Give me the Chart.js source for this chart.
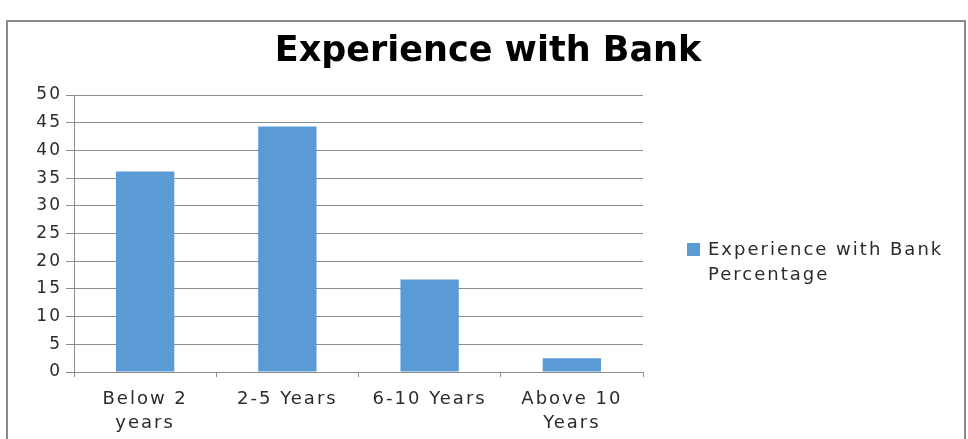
<!DOCTYPE html>
<html>
<head>
<meta charset="utf-8">
<title>Experience with Bank</title>
<script src="https://cdn.jsdelivr.net/npm/chart.js@4.4.1/dist/chart.umd.min.js"></script>
<style>
  html, body { margin: 0; padding: 0; background: #fff; }
  #chartBox { position: relative; width: 968px; height: 439px; }
</style>
</head>
<body>
<div id="chartBox"><canvas id="bankChart" width="968" height="439"></canvas></div>
<script>
// Chart data
const chartTitle = 'Experience with Bank';
const seriesName = 'Experience with Bank Percentage';
const categories = [['Below 2', 'years'], '2-5 Years', '6-10 Years', ['Above 10', 'Years']];
const percentages = [36.2, 44.3, 16.7, 2.5];
const yTickValues = [0, 5, 10, 15, 20, 25, 30, 35, 40, 45, 50];

// Styling
const fontFamily = '"DejaVu Sans", Verdana, sans-serif';
const barColor = '#5b9bd5';
const gridColor = '#8c8c8c';
const textColor = '#2b2b2b';
const spacing = '2px';

// Wide, loosely spaced lettering for the axis and key labels
const textSpacing = {
    id: 'textSpacing',
    beforeUpdate(chart) { chart.ctx.letterSpacing = spacing; },
    beforeLayout(chart) { chart.ctx.letterSpacing = spacing; },
    beforeDraw(chart) { chart.ctx.letterSpacing = spacing; }
};

// Grey frame around the whole chart
const chartFrame = {
    id: 'chartFrame',
    beforeDraw(chart) {
        const ctx = chart.ctx;
        ctx.save();
        ctx.strokeStyle = '#8a8a8a';
        ctx.lineWidth = 2;
        ctx.strokeRect(7, 21, 958, 500);
        ctx.restore();
    }
};

// Title on top, key on the right (label wraps onto two lines)
const titleAndKey = {
    id: 'titleAndKey',
    afterDraw(chart) {
        const ctx = chart.ctx;
        const ds = chart.data.datasets[0];
        ctx.save();
        ctx.letterSpacing = '0px';
        ctx.fillStyle = '#000';
        ctx.font = 'bold 35px ' + fontFamily;
        ctx.textAlign = 'center';
        ctx.textBaseline = 'alphabetic';
        ctx.fillText(chartTitle, 488, 61);

        ctx.fillStyle = ds.backgroundColor;
        ctx.fillRect(687, 243, 13, 13);

        ctx.letterSpacing = spacing;
        ctx.font = '18px ' + fontFamily;
        ctx.fillStyle = textColor;
        ctx.textAlign = 'left';
        const words = ds.label.split(' ');
        const lines = [];
        let line = '';
        words.forEach(w => {
            const test = line ? line + ' ' + w : w;
            if (line && ctx.measureText(test).width > 245) {
                lines.push(line);
                line = w;
            } else {
                line = test;
            }
        });
        lines.push(line);
        lines.forEach((l, i) => ctx.fillText(l, 708, 255 + i * 25));
        ctx.restore();
    }
};

const ctx = document.getElementById('bankChart').getContext('2d');
new Chart(ctx, {
    type: 'bar',
    data: {
        labels: categories,
        datasets: [{
            label: seriesName,
            data: percentages,
            backgroundColor: barColor,
            borderWidth: 0,
            barPercentage: 0.41,
            categoryPercentage: 1.0
        }]
    },
    options: {
        responsive: false,
        animation: false,
        devicePixelRatio: 1,
        layout: {
            padding: { top: 95, right: 325, bottom: 0, left: 0 }
        },
        plugins: {
            legend: { display: false },
            title: { display: false },
            tooltip: { enabled: false }
        },
        scales: {
            x: {
                grid: {
                    display: true,
                    drawOnChartArea: false,
                    drawTicks: true,
                    tickLength: 5,
                    color: gridColor,
                    offset: true
                },
                border: { color: gridColor },
                ticks: {
                    font: { family: fontFamily, size: 18, lineHeight: 1.35 },
                    color: textColor,
                    padding: 10,
                    maxRotation: 0,
                    autoSkip: false
                },
                afterFit(scale) { scale.height = 67; }
            },
            y: {
                min: 0,
                max: 50,
                grid: { color: gridColor, tickLength: 8 },
                border: { color: gridColor },
                ticks: {
                    font: { family: fontFamily, size: 17 },
                    color: textColor,
                    padding: 4
                },
                afterBuildTicks(scale) {
                    scale.ticks = yTickValues.map(v => ({ value: v }));
                },
                afterFit(scale) { scale.width = 74; }
            }
        }
    },
    plugins: [textSpacing, chartFrame, titleAndKey]
});
</script>
</body>
</html>
